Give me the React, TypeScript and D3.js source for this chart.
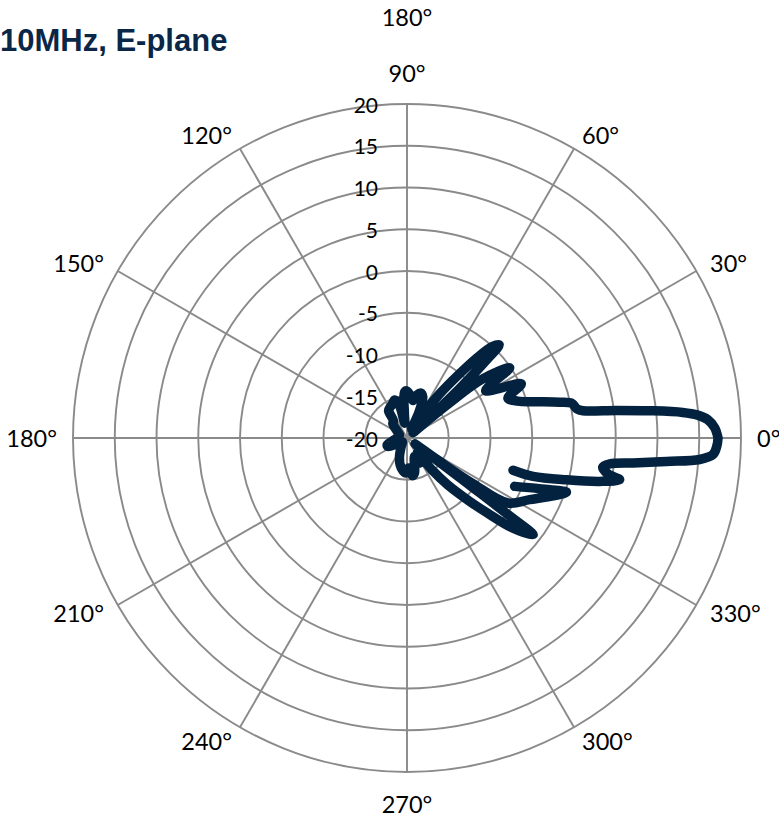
import * as d3 from "d3";

const title = "10MHz, E-plane";

// radial axis (dB)
const gainTicks = [-20, -15, -10, -5, 0, 5, 10, 15, 20];

// spokes and their labels, degrees counter-clockwise from the right
const spokeAngles = [0, 30, 60, 90, 120, 150, 180, 210, 240, 270, 300, 330];
const spokeLabels = ["0°", "30°", "60°", "90°", "120°", "150°", "180°", "210°", "240°", "270°", "300°", "330°"];
const extraTopLabel = "180°";

// measured pattern, in drawing order (null = missing sample)
const angles = [
  0, 1.9, 3.5, 4.5, 5.3, 6.4, 7.5, 8.8, 9.8, 11.9, 13.2, 16.1, 18.4,
  21.5, 25.4, 31.0, 34.3, 38.1,
  39.5, 40.5, 41.5, 42.3, 43.3, 44.5, 45.3, 47, 49, 51, 53.5, 56, 59,
  62, 65, 69, 73, 77, 81, 85, 90, 93, 96, 99, 103, 108, 113, 119, 124, 128,
  135, 145, 160, 180, 192, 199, 204, 210, 220, 235, 248, 256, 263, 268,
  273, 278, 282, 287, 292, 297, 301, 305,
  308, 311, 314.7, 317, 319.5, 322.5, 322.8, 323, 323.3, 323.6, 324.4, 325.3,
  327.2, 333.3, 338.7, 341.2, 339.1, 335.8, 340,
  343.1, 343.1, 345.3, 347.3, 348.9, 349.9, 351.5, 352.7, 353.7, 354.85,
  355.8, 356.9, 358.6, 360,
];
const gains: (number | null)[] = [
  17.25, 16.87, 16.08, 14.92, 13.16, 9.25, 5.29, 1.32, 0.62, 0.16, -1.22, -4.33, -6.02,
  -7.01, -4.85, -9.01, -5.11, -8.68,
  -13.41, -17.37, -19.04, -15.81, -11.02, -6.59, -4.31, -5.03, -7.43, -10.42, -13.41, -16.05, -18.32,
  -18.8, -16.65, -14.73, -14.37, -14.73, -15.45, -14.97, -14.37, -14.49, -17.01, -18.2, -16.05, -15.21, -15.57, -15.81, -16.05, -17.37,
  -17.6, -18.56, -19.04, -18.8, -18.2, -17.49, -17.49, -18.56, -19.28, -18.8, -17.6, -16.65, -16.05, -15.81,
  -16.41, -15.45, -15.69, -17.01, -17.6, -16.65, -17.01, -17.84,
  -15.21, -12.57, -9.34, -6.83, -3.47, -0.96, -5.03, -9.82, -14.61, -18.8, -15.21, -10.42,
  -5.63, -3.56, -1.01, 0.17, -2.99, -5.87, null,
  -6.73, -4.23, -0.26, 3.65, 5.95, 4.41, 3.7, 4.49, 7.23, 11.2,
  15.15, 16.7, 17.13, 17.25,
];

const width = 779;
const height = 817;
const cx = 407;
const cy = 438;
const R = 334;

const labelFont = "Lato, 'Open Sans', sans-serif";

const toRad = (deg: number) => (deg * Math.PI) / 180;

export default function App() {
  const r = d3.scaleLinear().domain([-20, 20]).range([0, R]);

  const points = angles.map((a, i) => ({ a, g: gains[i] }));

  const line = d3
    .lineRadial<{ a: number; g: number | null }>()
    .defined((d) => d.g !== null)
    .angle((d) => toRad(90 - d.a))
    .radius((d) => r(d.g as number))
    .curve(d3.curveCatmullRom.alpha(0.5));

  return (
    <svg
      width={width}
      height={height}
      style={{ position: "absolute", left: 0, top: 0, background: "#fff" }}
    >
      <g transform={`translate(${cx},${cy})`}>
        {gainTicks.slice(1).map((t) => (
          <circle key={t} r={r(t)} fill="none" stroke="#8a8a8a" strokeWidth={1.9} />
        ))}
        {spokeAngles.map((a) => (
          <line
            key={a}
            x1={0}
            y1={0}
            x2={R * Math.cos(toRad(a))}
            y2={-R * Math.sin(toRad(a))}
            stroke="#8a8a8a"
            strokeWidth={1.9}
          />
        ))}

        <path
          d={line(points) ?? ""}
          fill="none"
          stroke="#03223f"
          strokeWidth={9.5}
          strokeLinejoin="round"
          strokeLinecap="round"
        />

        {gainTicks.map((t) => (
          <text
            key={t}
            x={-29}
            y={-r(t)}
            textAnchor="end"
            dominantBaseline="central"
            fontFamily={labelFont}
            fontSize={21}
            fill="#000"
          >
            {t}
          </text>
        ))}

        {spokeAngles.map((a, i) => {
          const c = Math.cos(toRad(a));
          const s = Math.sin(toRad(a));
          const ax = (R + 16) * c;
          let ay = -(R + 16) * s;
          let anchor = "middle";
          if (c > 0.01) anchor = "start";
          else if (c < -0.01) anchor = "end";
          else ay -= s * 15.5;
          return (
            <text
              key={a}
              x={ax}
              y={ay}
              textAnchor={anchor}
              dominantBaseline="central"
              fontFamily={labelFont}
              fontSize={23.5}
              fill="#000"
            >
              {spokeLabels[i]}
            </text>
          );
        })}
      </g>

      <text
        x={cx}
        y={17}
        textAnchor="middle"
        dominantBaseline="central"
        fontFamily={labelFont}
        fontSize={23.5}
        fill="#000"
      >
        {extraTopLabel}
      </text>

      <text
        x={0}
        y={51}
        fontFamily="'Liberation Sans', Arial, sans-serif"
        fontWeight="bold"
        fontSize={31}
        fill="#0b2747"
      >
        {title}
      </text>
    </svg>
  );
}
